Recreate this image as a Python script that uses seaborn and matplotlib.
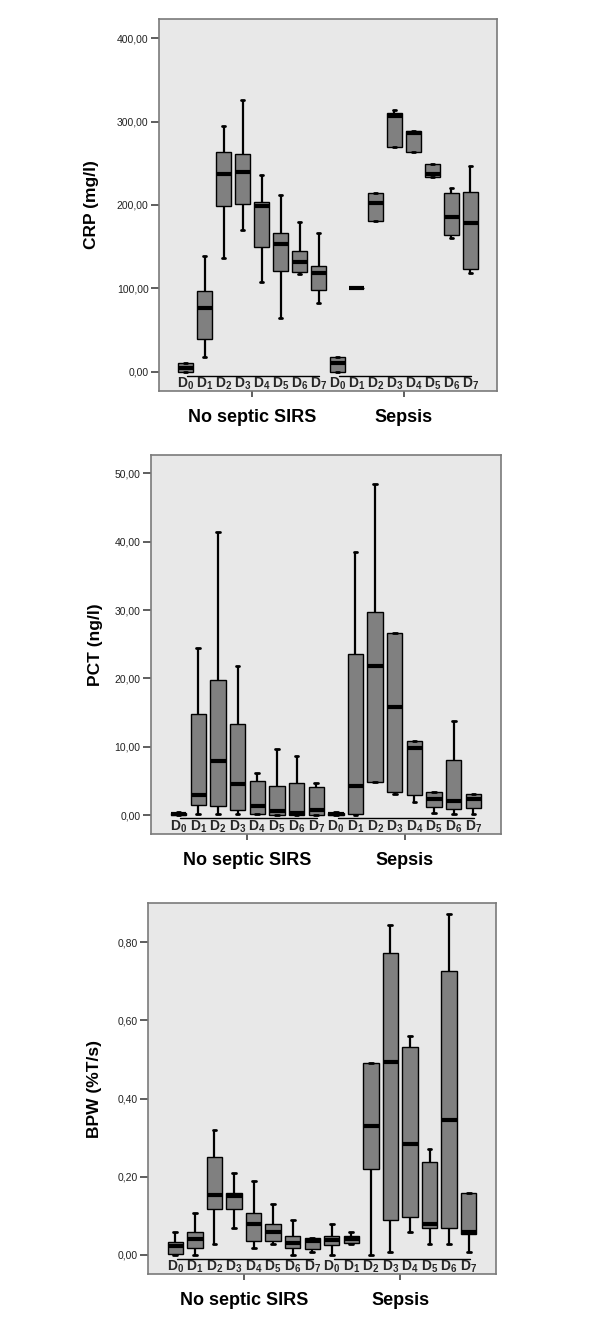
import matplotlib
matplotlib.use("Agg")
import matplotlib.pyplot as plt
import matplotlib.transforms as mtransforms
from matplotlib.ticker import FuncFormatter
import pandas as pd
import seaborn as sns

# ── Data: five-number summaries (min, q1, median, q3, max) per day ──
groups = ["No septic SIRS", "Sepsis"]
days = ["0", "1", "2", "3", "4", "5", "6", "7"]

crp_no_septic = [
    [0, 0.5, 4.5, 11, 11],
    [18, 40, 77, 97, 139],
    [136, 199, 237, 264, 295],
    [170, 201, 239, 261, 326],
    [108, 150, 199, 204, 236],
    [65, 121, 153, 167, 212],
    [117, 120, 132, 145, 180],
    [83, 98, 118, 127, 166],
]
crp_sepsis = [
    [0.5, 0.5, 11, 17.5, 17.5],
    [100, 100, 100, 100, 100],
    [181, 181, 202, 214, 214],
    [269, 269.5, 307, 310, 314],
    [264, 264, 286, 289, 289],
    [234, 234, 237, 249, 249],
    [160, 164, 186, 214, 220],
    [119, 123, 178, 215, 247],
]

pct_no_septic = [
    [0, 0.05, 0.1, 0.3, 0.4],
    [0.1, 1.5, 3.0, 14.8, 24.5],
    [0.2, 1.3, 7.9, 19.8, 41.5],
    [0.1, 0.8, 4.5, 13.3, 21.8],
    [0.1, 0.2, 1.3, 5.0, 6.1],
    [0.0, 0.05, 0.6, 4.3, 9.6],
    [0.0, 0.05, 0.3, 4.7, 8.7],
    [0.0, 0.05, 0.7, 4.1, 4.7],
]
pct_sepsis = [
    [0, 0.05, 0.1, 0.3, 0.4],
    [0.0, 0.1, 4.3, 23.5, 38.5],
    [4.8, 4.8, 21.8, 29.7, 48.5],
    [3.1, 3.4, 15.8, 26.7, 26.7],
    [1.9, 2.9, 9.8, 10.9, 10.9],
    [0.3, 1.1, 2.4, 3.4, 3.4],
    [0.2, 0.9, 2.0, 8.0, 13.8],
    [0.1, 1.0, 2.4, 3.1, 3.1],
]

bpw_no_septic = [
    [0.0, 0.002, 0.024, 0.034, 0.058],
    [0.0, 0.017, 0.040, 0.059, 0.108],
    [0.027, 0.118, 0.154, 0.250, 0.320],
    [0.069, 0.118, 0.151, 0.159, 0.210],
    [0.019, 0.037, 0.078, 0.108, 0.190],
    [0.028, 0.037, 0.059, 0.079, 0.130],
    [0.0, 0.018, 0.030, 0.049, 0.090],
    [0.008, 0.016, 0.037, 0.043, 0.043],
]
bpw_sepsis = [
    [0.0, 0.026, 0.038, 0.049, 0.078],
    [0.028, 0.030, 0.040, 0.049, 0.059],
    [0.0, 0.219, 0.331, 0.490, 0.490],
    [0.008, 0.089, 0.494, 0.773, 0.843],
    [0.058, 0.098, 0.285, 0.531, 0.561],
    [0.028, 0.068, 0.078, 0.239, 0.270],
    [0.028, 0.068, 0.345, 0.727, 0.872],
    [0.008, 0.053, 0.060, 0.159, 0.159],
]

panels = [
    ("CRP (mg/l)", crp_no_septic, crp_sepsis, [0, 100, 200, 300, 400], (-22.8, 422.8)),
    ("PCT (ng/l)", pct_no_septic, pct_sepsis, [0, 10, 20, 30, 40, 50], (-2.78, 52.7)),
    ("BPW (%T/s)", bpw_no_septic, bpw_sepsis, [0, 0.2, 0.4, 0.6, 0.8], (-0.0486, 0.900)),
]

# axes rectangles in pixels (left, top, right, bottom) of a 600x1334 figure
boxes_px = [(159, 19, 497, 391), (151, 455, 501, 834), (148, 903, 496, 1274)]
ylabel_x = [-0.178, -0.137, -0.133]

BG = "#e8e8e8"
BOX_GREY = "#808080"
SPINE = "#7a7a7a"

sns.set_theme(style="white")
plt.rcParams["font.family"] = ["Liberation Sans", "DejaVu Sans"]
plt.rcParams["mathtext.fontset"] = "custom"
plt.rcParams["mathtext.bf"] = "Liberation Sans:bold"
plt.rcParams["mathtext.rm"] = "Liberation Sans"

order = [f"{g}|D{d}" for g in groups for d in days]


def long_frame(no_septic, sepsis):
    rows = []
    for g, table in zip(groups, [no_septic, sepsis]):
        for d, stats in zip(days, table):
            for v in stats:
                rows.append({"slot": f"{g}|D{d}", "value": v})
    return pd.DataFrame(rows)


W, H = 600, 1334
fig = plt.figure(figsize=(W / 100, H / 100), dpi=100)

for (label, ns, sp, yticks, ylim), (l, t, r, b), lx in zip(panels, boxes_px, ylabel_x):
    ax = fig.add_axes([l / W, 1 - b / H, (r - l) / W, (b - t) / H])
    ax.set_facecolor(BG)
    df = long_frame(ns, sp)

    sns.boxplot(
        data=df, x="slot", y="value", order=order, ax=ax,
        color=BOX_GREY, saturation=1, linecolor="black", linewidth=1.0,
        width=0.78, whis=(0, 100), fliersize=0,
        medianprops=dict(color="black", linewidth=3.0, solid_capstyle="butt"),
        whiskerprops=dict(linewidth=1.6),
        capprops=dict(linewidth=2.0),
        capwidths=0.2,
    )

    ax.set_xlim(-1.4, 16.4)
    ax.set_ylim(*ylim)

    # y axis
    ax.set_yticks(yticks)
    ax.yaxis.set_major_formatter(FuncFormatter(lambda v, p: f"{v:.2f}".replace(".", ",")))
    ax.tick_params(axis="y", left=True, length=5.5, width=1.1, color="#333333",
                   labelsize=7.5, labelcolor="#222222", pad=2)
    ax.set_ylabel(label, fontsize=12.5, fontweight="bold", color="black")
    ax.yaxis.set_label_coords(lx, 0.5)

    # group labels on the x axis
    ax.set_xticks([3.5, 11.5])
    ax.set_xticklabels(groups, fontsize=13, fontweight="bold", color="black")
    ax.tick_params(axis="x", bottom=True, length=4, width=1.1, color="#333333", pad=9)
    ax.set_xlabel("")

    for s in ax.spines.values():
        s.set_color(SPINE)
        s.set_linewidth(1.2)

    # day labels and the underline of each group
    trans = mtransforms.blended_transform_factory(ax.transData, ax.transAxes)
    for gi in range(2):
        x0 = gi * 8
        ax.plot([x0 + 0.1, x0 + 7.05], [0.041, 0.041], transform=trans,
                color="black", linewidth=1.0, clip_on=False)
        for di, d in enumerate(days):
            ax.text(x0 + di, 0.019, r"$\mathbf{D}_{\mathbf{" + d + "}}$",
                    transform=trans, ha="center", va="center", fontsize=10)

fig.savefig("out.png", dpi=100, facecolor="white")
